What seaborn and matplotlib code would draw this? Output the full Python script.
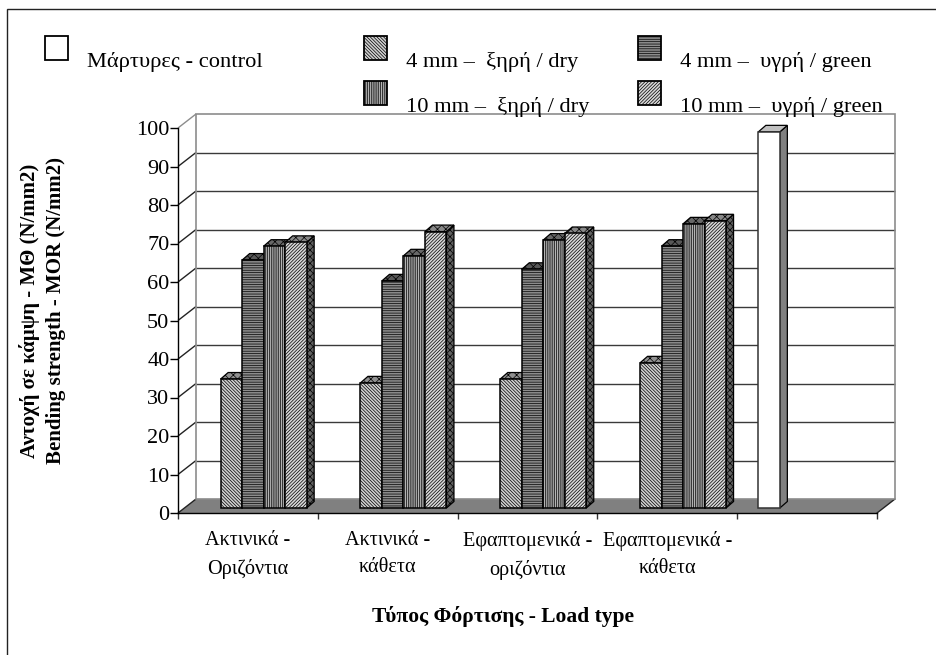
import numpy as np
import pandas as pd
import matplotlib
matplotlib.use("Agg")
import matplotlib.pyplot as plt
import seaborn as sns
from matplotlib.patches import Patch, Polygon, Rectangle
from matplotlib.legend_handler import HandlerPatch
from matplotlib.transforms import Affine2D

W, H = 937, 655
categories = ["Ακτινικά -\nΟριζόντια", "Ακτινικά -\nκάθετα", "Εφαπτομενικά -\nοριζόντια", "Εφαπτομενικά -\nκάθετα", " "]
series = ["Μάρτυρες - control", "4 mm –  ξηρή / dry", "4 mm –  υγρή / green", "10 mm –  ξηρή / dry", "10 mm –  υγρή / green"]
control = [np.nan, np.nan, np.nan, np.nan, 97.7]
dry4 = [33.5, 32.5, 33.5, 37.7, np.nan]
green4 = [64.4, 59.0, 62.0, 68.0, np.nan]
dry10 = [68.0, 65.5, 69.6, 73.8, np.nan]
green10 = [69.0, 71.8, 71.3, 74.6, np.nan]
y_ticks = list(range(0, 101, 10))
x_title = "Τύπος Φόρτισης - Load type"
y_title = "Αντοχή σε κάμψη - ΜΘ (N/mm2)\nBending strength - MOR (N/mm2)"

sns.set_theme(style="white")
plt.rcParams["font.family"] = ["Liberation Serif", "DejaVu Serif"]
plt.rcParams["hatch.linewidth"] = 0.5
plt.rcParams["hatch.color"] = "black"

df = pd.DataFrame(
    [(c, s, v) for s, vals in zip(series, [control, dry4, green4, dry10, green10])
     for c, v in zip(categories, vals)],
    columns=["load", "series", "value"]).dropna()

fig = plt.figure(figsize=(W / 100, H / 100), dpi=100, facecolor="white")
# outer frame of the picture
fig.add_artist(Rectangle((7.5 / W, -0.02), 1.0, (646 + 0.02 * H) / H, transform=fig.transFigure,
                         fill=False, ec="#222222", lw=1.0))

ax = fig.add_axes([178 / W, 1 - 513 / H, 699 / W, 385 / H])
ax.patch.set_alpha(0)

sty = {
    series[0]: dict(face="white", hatch=None, top="#c0c0c0", side="#808080", edge="#333333"),
    series[1]: dict(face="#d0d0d0", hatch="\\" * 10, top="#909090", side="#606060", edge="black"),
    series[2]: dict(face="#8c8c8c", hatch="-" * 7, top="#585858", side="#585858", edge="black"),
    series[3]: dict(face="#b4b4b4", hatch="|" * 9, top="#686868", side="#606060", edge="black"),
    series[4]: dict(face="#d8d8d8", hatch="/" * 10, top="#888888", side="#606060", edge="black"),
}

sns.barplot(data=df, x="load", y="value", hue="series", order=categories, hue_order=series,
            width=0.769, dodge=True, errorbar=None, legend=False, ax=ax,
            palette={s: sty[s]["face"] for s in series}, saturation=1)
ax.set_xlim(-0.5, 4.5)
ax.set_ylim(0, 100)

# depth planes, in display pixels relative to the front axis plane
bar_plane = ax.transData + Affine2D().translate(5, 5)
back_plane = ax.transData + Affine2D().translate(18, 14)
DX, DY = 7.5, 6.5
ux, uy = 139.8, 3.85

# floor, walls, gridlines
floor = Polygon([(-0.5, 0), (4.5, 0), (4.5 + 18 / ux, 14 / uy), (-0.5 + 18 / ux, 14 / uy)],
                closed=True, fc="#808080", ec="none", zorder=0.5, clip_on=False)
ax.add_patch(floor)
ax.hlines(y_ticks[1:-1], -0.5, 4.5, transform=back_plane, color="#3a3a3a", lw=1.0, zorder=0.6, clip_on=False)
wall = Rectangle((-0.5, 0), 5, 100, transform=back_plane, fill=False, ec="#8c8c8c", lw=1.2, zorder=0.7,
                 clip_on=False)
ax.add_patch(wall)
for t in y_ticks:
    ax.plot([-0.5, -0.5 + 18 / ux], [t, t + 14 / uy], color="#222222" if t < 100 else "#8c8c8c",
            lw=1.0, zorder=0.6, clip_on=False, solid_capstyle="butt")
ax.plot([4.5, 4.5 + 18 / ux], [0, 14 / uy], color="#222222", lw=1.0, zorder=0.6, clip_on=False)

# 3-D bar faces
bars = []
for cont, name in zip(ax.containers, series):
    for p in cont:
        if np.isfinite(p.get_height()) and p.get_height() > 0:
            bars.append((p, name))
bars.sort(key=lambda b: b[0].get_x())
z = 2.0
for p, name in bars:
    s = sty[name]
    x0, y0, w, h = p.get_x(), p.get_y(), p.get_width(), p.get_height()
    dx, dy = DX / ux, DY / uy
    side = Polygon([(x0 + w, y0), (x0 + w + dx, y0 + dy), (x0 + w + dx, y0 + h + dy), (x0 + w, y0 + h)],
                   closed=True, fc=s["side"], ec="black", lw=0.9, transform=bar_plane, zorder=z,
                   hatch="x" * 5 if s["hatch"] else None, clip_on=False)
    top = Polygon([(x0, y0 + h), (x0 + dx, y0 + h + dy), (x0 + w + dx, y0 + h + dy), (x0 + w, y0 + h)],
                  closed=True, fc=s["top"], ec="black", lw=0.9, transform=bar_plane, zorder=z,
                  hatch="x" * 4 if s["hatch"] else None, clip_on=False)
    ax.add_patch(side)
    ax.add_patch(top)
    p.set_transform(bar_plane)
    p.set_zorder(z + 0.001)
    p.set_edgecolor(s["edge"])
    p.set_linewidth(1.1)
    if s["hatch"]:
        p.set_hatch(s["hatch"])
    p.set_clip_on(False)
    z += 0.01

# axes furniture
for k in ["top", "right"]:
    ax.spines[k].set_visible(False)
for k in ["left", "bottom"]:
    ax.spines[k].set_visible(True)
    ax.spines[k].set_color("black")
    ax.spines[k].set_linewidth(1.0)
    ax.spines[k].set_zorder(5)
ax.set_yticks(y_ticks)
ax.set_xticks(range(5))
ax.set_xticklabels(categories)
ax.set_xticks(np.arange(-0.5, 5), minor=True)
ax.tick_params(axis="y", left=True, length=5.5, width=1, color="black", labelsize=16, pad=0.7, labelcolor="black")
ax.tick_params(axis="x", which="major", bottom=False, length=0, labelsize=14.6, pad=13, labelcolor="black")
ax.tick_params(axis="x", which="minor", bottom=True, length=4.5, width=1, color="#333333")
for lbl in ax.get_xticklabels():
    lbl.set_linespacing(1.58)
ax.set_xlabel(x_title, fontsize=15.5, fontweight="bold", color="black")
ax.xaxis.set_label_coords((503 - 178) / 699, (513 - 606) / 385)
ax.set_ylabel(y_title, fontsize=15, fontweight="bold", color="black", linespacing=1.42)
ax.yaxis.set_label_coords((66 - 178) / 699, 0.525)
ax.grid(False)

# legends
def swatch(legend, orig_handle, xdescent, ydescent, width, height, fontsize):
    return Rectangle((-xdescent, -ydescent + 5.3), width, 17.0)

def lh(name):
    s = sty[name]
    return Patch(fc=s["face"], ec="black", lw=1.3, hatch=s["hatch"], label=name)

for names, xpx, ypx in [([series[0]], 45, 51.5), ([series[1], series[3]], 364, 51.5), ([series[2], series[4]], 638, 51.5)]:
    fig.legend(handles=[lh(n) for n in names], loc="upper left",
               bbox_to_anchor=(xpx / W, 1 - ypx / H), frameon=False, fontsize=16.2,
               handlelength=1.02, handleheight=0.7, handletextpad=0.85, labelspacing=1.07,
               borderpad=0, borderaxespad=0, labelcolor="black",
               handler_map={Patch: HandlerPatch(patch_func=swatch)})

fig.savefig("out.png", dpi=100, facecolor="white")
